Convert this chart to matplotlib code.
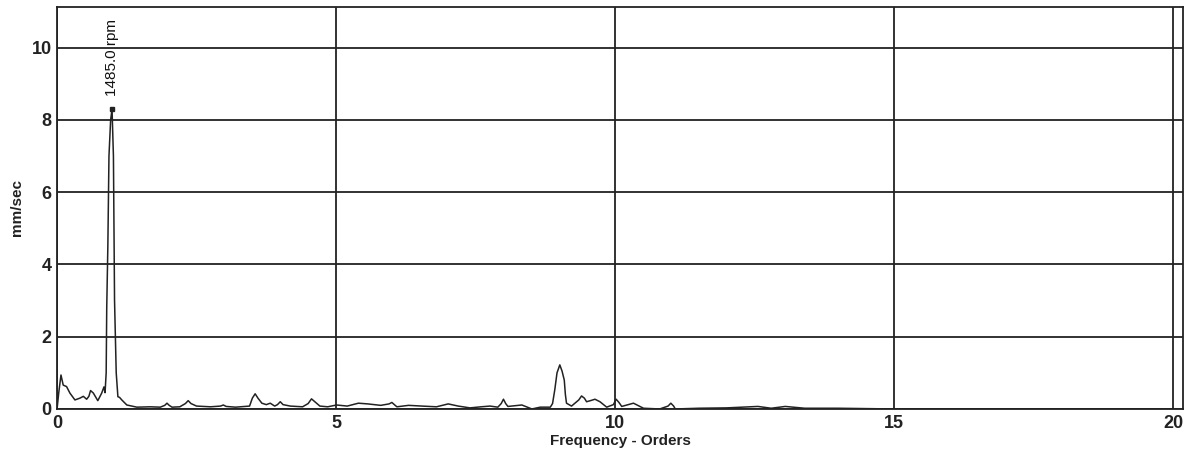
import matplotlib.pyplot as plt
import numpy as np

# spectrum (orders, mm/sec)
orders = [0.0, 0.03, 0.07, 0.11, 0.17, 0.23, 0.32, 0.41, 0.47, 0.53, 0.57, 0.60, 0.65,
          0.73, 0.80, 0.84, 0.86, 0.88, 0.89, 0.91, 0.93, 0.96, 0.985, 1.01, 1.03, 1.06,
          1.09, 1.12, 1.16, 1.25, 1.43, 1.67, 1.85, 1.93, 1.97, 2.01, 2.06, 2.2, 2.3, 2.35,
          2.4, 2.5, 2.75, 2.93, 2.98, 3.03, 3.2, 3.45, 3.5, 3.55, 3.6, 3.67, 3.75, 3.82,
          3.9, 3.95, 4.0, 4.05, 4.18, 4.4, 4.5, 4.56, 4.62, 4.71, 4.85, 5.01, 5.2, 5.40,
          5.57, 5.8, 5.95, 6.0, 6.09, 6.3, 6.54, 6.8, 7.01, 7.19, 7.40, 7.6, 7.76, 7.9,
          7.96, 8.0, 8.04, 8.08, 8.33, 8.51, 8.66, 8.84, 8.88, 8.92, 8.96, 9.01, 9.05,
          9.09, 9.11, 9.13, 9.22, 9.35, 9.40, 9.45, 9.49, 9.58, 9.64, 9.73, 9.85, 9.97,
          10.02, 10.07, 10.12, 10.33, 10.51, 10.8, 10.95, 11.0, 11.05, 11.08, 11.5, 12.0,
          12.56, 12.8, 13.05, 13.4, 14.0, 15.0, 20.0]
amplitude = [0.0, 0.45, 0.94, 0.66, 0.62, 0.44, 0.25, 0.30, 0.35, 0.27, 0.35, 0.51, 0.44,
             0.23, 0.44, 0.61, 0.45, 1.0, 2.8, 4.5, 7.0, 8.0, 8.3, 7.0, 3.0, 1.0,
             0.34, 0.32, 0.25, 0.11, 0.05, 0.06, 0.05, 0.1, 0.16, 0.1, 0.05, 0.06, 0.15, 0.23,
             0.15, 0.08, 0.06, 0.08, 0.11, 0.07, 0.05, 0.08, 0.3, 0.42, 0.3, 0.16, 0.12, 0.16,
             0.08, 0.12, 0.2, 0.12, 0.08, 0.06, 0.15, 0.28, 0.2, 0.08, 0.06, 0.11, 0.08, 0.16,
             0.14, 0.1, 0.14, 0.18, 0.06, 0.1, 0.08, 0.06, 0.14, 0.08, 0.03, 0.06, 0.08, 0.05,
             0.15, 0.27, 0.15, 0.07, 0.11, 0.0, 0.05, 0.05, 0.15, 0.53, 1.0, 1.22, 1.05,
             0.8, 0.4, 0.16, 0.08, 0.25, 0.36, 0.3, 0.2, 0.24, 0.27, 0.2, 0.05, 0.12,
             0.27, 0.18, 0.07, 0.16, 0.02, 0.0, 0.08, 0.16, 0.08, 0.0, 0.02, 0.03,
             0.07, 0.02, 0.07, 0.02, 0.02, 0.0, 0.0]

peak_order = 0.985
peak_value = 8.3
peak_label = "1485.0 rpm"

xticks = [0, 5, 10, 15, 20]
yticks = [0, 2, 4, 6, 8, 10]

plt.rcParams['font.family'] = ['Liberation Sans', 'DejaVu Sans']

fig = plt.figure(figsize=(11.89, 4.59), dpi=100)
ax = fig.add_axes([0.048, 0.109, 0.947, 0.876])

ax.plot(orders, amplitude, color='#222222', linewidth=1.1)
ax.plot([peak_order], [peak_value], marker='s', markersize=3, color='#222222')
ax.text(peak_order, peak_value + 0.35, peak_label, rotation=90, ha='center', va='bottom',
        fontsize=11, color='#111111')

ax.set_xlim(0, 20.18)
ax.set_ylim(0, 11.13)
ax.set_xticks(xticks)
ax.set_yticks(yticks)
ax.tick_params(length=0, labelsize=13, pad=4)
for lbl in ax.get_xticklabels() + ax.get_yticklabels():
    lbl.set_fontweight('bold')
    lbl.set_color('#222222')

ax.grid(True, color='#222222', linewidth=1.3)
for s in ax.spines.values():
    s.set_linewidth(1.3)
    s.set_color('#222222')

ax.set_xlabel("Frequency - Orders", fontsize=11, fontweight='bold', color='#222222', labelpad=2)
ax.set_ylabel("mm/sec", fontsize=11, fontweight='bold', color='#222222', labelpad=5)

plt.savefig("out.png", dpi=100)
